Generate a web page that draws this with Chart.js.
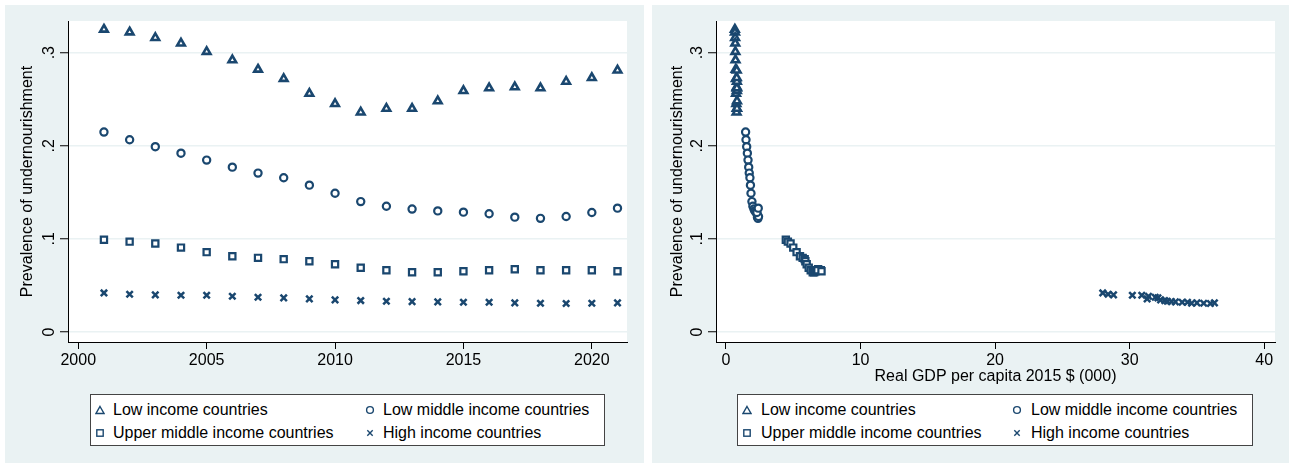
<!DOCTYPE html>
<html>
<head>
<meta charset="utf-8">
<script src="https://cdn.jsdelivr.net/npm/chart.js@4/dist/chart.umd.min.js"></script>
<style>
  body { margin: 0; background: #fff; width: 1289px; height: 467px; position: relative; overflow: hidden;
         font-family: "Liberation Sans", Arial, sans-serif; }
  .panel { position: absolute; top: 5px; height: 458px; background: #eaf2f3; }
  .panel canvas { position: absolute; left: 0; top: 0; }
  .legend { position: absolute; left: 85px; top: 389px; height: 52px; background: #fff;
            border: 1px solid #444; box-sizing: border-box; }
  .item { position: absolute; height: 20px; line-height: 20px; font-size: 16px; color: #000; white-space: nowrap; }
  .item svg { position: absolute; top: 5px; }
  .item span { position: absolute; top: 0; }
</style>
</head>
<body>
<div class="panel" id="leftPanel" style="left:5px;width:639px;">
  <canvas id="leftChart" width="639" height="458"></canvas>
  <div class="legend" id="leftLegend" style="width:515px;"></div>
</div>
<div class="panel" id="rightPanel" style="left:652px;width:637px;">
  <canvas id="rightChart" width="637" height="458"></canvas>
  <div class="legend" id="rightLegend" style="width:516px;"></div>
</div>
<script>
// data
const years = [2001, 2002, 2003, 2004, 2005, 2006, 2007, 2008, 2009, 2010, 2011,
  2012, 2013, 2014, 2015, 2016, 2017, 2018, 2019, 2020, 2021];

const seriesNames = ["Low income countries", "Low middle income countries",
  "Upper middle income countries", "High income countries"];

// prevalence of undernourishment
const lowIncome = [0.325, 0.322, 0.316, 0.310, 0.301, 0.292, 0.282, 0.272, 0.256, 0.245, 0.236,
  0.240, 0.240, 0.248, 0.259, 0.262, 0.263, 0.262, 0.269, 0.273, 0.281];
const lowMiddle = [0.2147, 0.2065, 0.199, 0.192, 0.1846, 0.177, 0.1706, 0.1656, 0.1577, 0.149, 0.140,
  0.135, 0.132, 0.130, 0.1287, 0.127, 0.1233, 0.122, 0.124, 0.1283, 0.133];
const upperMiddle = [0.099, 0.097, 0.095, 0.0906, 0.0857, 0.0814, 0.0796, 0.0782, 0.076, 0.0728, 0.069,
  0.0663, 0.0641, 0.0641, 0.0652, 0.0663, 0.0674, 0.0663, 0.0663, 0.0663, 0.0652];
const highIncome = [0.0419, 0.0405, 0.0398, 0.0394, 0.0394, 0.0383, 0.0373, 0.0366, 0.0355, 0.0344, 0.0337,
  0.033, 0.0326, 0.0323, 0.0319, 0.0319, 0.0312, 0.0308, 0.0305, 0.0308, 0.0312];

// real GDP per capita, 2015 $ (000)
const gdpLow = [0.66, 0.67, 0.68, 0.69, 0.70, 0.71, 0.72, 0.74, 0.75, 0.77, 0.79,
  0.80, 0.82, 0.82, 0.81, 0.80, 0.80, 0.81, 0.81, 0.80, 0.80];
const gdpLowMiddle = [1.46, 1.49, 1.54, 1.59, 1.64, 1.69, 1.73, 1.78, 1.82, 1.86, 1.93,
  2.00, 2.08, 2.15, 2.23, 2.30, 2.34, 2.38, 2.42, 2.30, 2.40];
const gdpUpperMiddle = [4.45, 4.60, 4.80, 5.00, 5.25, 5.50, 5.70, 5.85, 5.90, 6.00, 6.15,
  6.30, 6.45, 6.55, 6.65, 6.75, 6.85, 6.95, 7.05, 6.80, 7.10];
const gdpHigh = [28.0, 28.4, 28.8, 30.2, 30.9, 31.4, 31.9, 32.1, 31.3, 32.3, 32.6,
  32.8, 33.1, 33.4, 33.9, 34.3, 35.0, 35.5, 36.0, 34.6, 36.3];

const yTicks = [0, 0.1, 0.2, 0.3];
const yearTicks = [2000, 2005, 2010, 2015, 2020];
const gdpTicks = [0, 10, 20, 30, 40];

const navy = "#1a476f";
const fontFamily = '"Liberation Sans", Arial, sans-serif';

const markerStyles = [
  { pointStyle: "triangle", pointRadius: 4.4, pointBorderWidth: 2.6 },
  { pointStyle: "circle", pointRadius: 3.6, pointBorderWidth: 2.2 },
  { pointStyle: "rect", pointRadius: 4.4, pointBorderWidth: 2.2 },
  { pointStyle: "crossRot", pointRadius: 4.5, pointBorderWidth: 2.5 },
];

function makeDatasets(xs) {
  const ys = [lowIncome, lowMiddle, upperMiddle, highIncome];
  return ys.map((vals, i) => ({
    label: seriesNames[i],
    data: vals.map((v, j) => ({ x: xs[i][j], y: v })),
    borderColor: navy,
    backgroundColor: "#fff",
    ...markerStyles[i],
  }));
}

// white plot region
const plotBg = {
  id: "plotBg",
  beforeDraw(chart) {
    const { ctx, chartArea: a } = chart;
    ctx.save();
    ctx.fillStyle = "#fff";
    ctx.fillRect(a.left, a.top, a.right - a.left, a.bottom - a.top);
    ctx.restore();
  },
};

// Stata-style vertical y tick labels
const yTickLabels = {
  id: "yTickLabels",
  afterDraw(chart) {
    const { ctx } = chart;
    const scale = chart.scales.y;
    ctx.save();
    ctx.font = "16px " + fontFamily;
    ctx.fillStyle = "#000";
    ctx.textAlign = "center";
    ctx.textBaseline = "alphabetic";
    scale.ticks.forEach((t) => {
      const y = scale.getPixelForValue(t.value);
      ctx.save();
      ctx.translate(scale.right - 14, y);
      ctx.rotate(-Math.PI / 2);
      ctx.fillText(t.value === 0 ? "0" : "." + Math.round(t.value * 10), 0, 0);
      ctx.restore();
    });
    ctx.restore();
  },
};

function makeChart(canvasId, xs, xOpts, padRight, yTitlePad) {
  const ctx = document.getElementById(canvasId).getContext("2d");
  return new Chart(ctx, {
    type: "scatter",
    data: { datasets: makeDatasets(xs) },
    options: {
      responsive: false,
      animation: false,
      layout: { padding: { left: 0, top: 16, right: padRight, bottom: 76 } },
      plugins: { legend: { display: false }, tooltip: { enabled: false } },
      scales: {
        x: {
          type: "linear",
          min: xOpts.min,
          max: xOpts.max,
          afterBuildTicks: (s) => { s.ticks = xOpts.ticks.map((v) => ({ value: v })); },
          afterFit: (s) => { s.height = 45; },
          border: { color: "#000", width: 1 },
          grid: { drawOnChartArea: false, tickLength: 7, tickColor: "#000" },
          ticks: { color: "#000", font: { size: 16, family: fontFamily }, padding: 2,
                   maxRotation: 0, callback: (v) => String(v) },
          title: {
            display: !!xOpts.title,
            text: xOpts.title || "",
            color: "#000",
            font: { size: 16, family: fontFamily },
            padding: { top: 0, bottom: 1 },
          },
        },
        y: {
          min: -0.0108,
          max: 0.334,
          afterBuildTicks: (s) => { s.ticks = yTicks.map((v) => ({ value: v })); },
          afterFit: (s) => { s.width = xOpts.yWidth; },
          border: { color: "#000", width: 1 },
          grid: { color: "#eaf2f3", lineWidth: 1.5, tickLength: 8, tickColor: "#000", tickWidth: 1 },
          ticks: { display: false },
          title: {
            display: true,
            text: "Prevalence of undernourishment",
            color: "#000",
            font: { size: 16, family: fontFamily },
            padding: { top: yTitlePad, bottom: 0 },
          },
        },
      },
    },
    plugins: [plotBg, yTickLabels],
  });
}

makeChart("leftChart", [years, years, years, years],
  { min: 1999.6, max: 2021.37, ticks: yearTicks, yWidth: 63 }, 17, 13);
makeChart("rightChart", [gdpLow, gdpLowMiddle, gdpUpperMiddle, gdpHigh],
  { min: -0.74, max: 40.8, ticks: gdpTicks, yWidth: 64, title: "Real GDP per capita 2015 $ (000)" }, 14, 16);

// legend boxes (2 x 2 grid, Stata style)
const legendSvgs = [
  '<svg width="10" height="10"><polygon points="5,1.5 9,8.5 1,8.5" fill="none" stroke="' + navy + '" stroke-width="1.4"/></svg>',
  '<svg width="10" height="10"><circle cx="5" cy="5" r="3.4" fill="none" stroke="' + navy + '" stroke-width="1.4"/></svg>',
  '<svg width="10" height="10"><rect x="1.8" y="1.8" width="6.4" height="6.4" fill="none" stroke="' + navy + '" stroke-width="1.4"/></svg>',
  '<svg width="10" height="10"><path d="M2.3,2.3 L7.7,7.7 M7.7,2.3 L2.3,7.7" stroke="' + navy + '" stroke-width="1.4"/></svg>',
];
// grid order: row 1 = low, low middle; row 2 = upper middle, high
const legendOrder = [0, 1, 2, 3];

function buildLegend(id, colX, textOff) {
  const box = document.getElementById(id);
  legendOrder.forEach((s, k) => {
    const col = k % 2;
    const row = Math.floor(k / 2);
    const div = document.createElement("div");
    div.className = "item";
    div.style.left = colX[col] - 5 + "px";
    div.style.top = 5 + row * 23 + "px";
    div.innerHTML = legendSvgs[s] + '<span style="left:' + textOff + 'px">' + seriesNames[s] + "</span>";
    box.appendChild(div);
  });
}
buildLegend("leftLegend", [9, 279], 18);
buildLegend("rightLegend", [9, 279], 19);
</script>
</body>
</html>
